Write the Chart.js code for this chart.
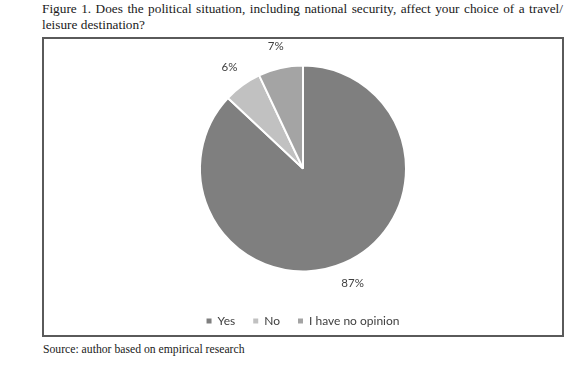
<!DOCTYPE html>
<html>
<head>
<meta charset="utf-8">
<title>Figure 1</title>
<script src="https://cdn.jsdelivr.net/npm/chart.js@4.4.1/dist/chart.umd.min.js"></script>
<style>
    body {
        margin: 0;
        background: #ffffff;
        width: 582px;
        height: 365px;
        position: relative;
        overflow: hidden;
    }
    .title {
        position: absolute;
        left: 42px;
        top: 1px;
        width: 521px;
        font-family: "Liberation Serif", "DejaVu Serif", serif;
        font-size: 13.3px;
        line-height: 16px;
        color: #1a1a1a;
    }
    .title .first {
        text-align: justify;
        text-align-last: justify;
    }
    .frame {
        position: absolute;
        left: 42px;
        top: 37px;
        width: 518px;
        height: 296px;
        border: 2px solid #5a5a5a;
    }
    #chartWrap {
        position: absolute;
        left: 45px;
        top: 20px;
        width: 516px;
        height: 317px;
    }
    .source {
        position: absolute;
        left: 43px;
        top: 343px;
        font-family: "Liberation Serif", "DejaVu Serif", serif;
        font-size: 11.7px;
        color: #1a1a1a;
    }
</style>
</head>
<body>
<div class="title">
    <div class="first">Figure 1. Does the political situation, including national security, affect your choice of a travel/</div>
    <div>leisure destination?</div>
</div>
<div class="frame"></div>
<div id="chartWrap"><canvas id="pieChart"></canvas></div>
<div class="source">Source: author based on empirical research</div>

<script>
// Chart data
const categories = ['Yes', 'No', 'I have no opinion'];
const values = [87, 6, 7];
const sliceColors = ['#7f7f7f', '#c1c1c1', '#a4a4a4'];

// Percent labels outside each slice
const outsideLabels = {
    id: 'outsideLabels',
    afterDatasetsDraw(chart) {
        const ctx = chart.ctx;
        const meta = chart.getDatasetMeta(0);
        ctx.save();
        ctx.font = '11.5px Lato, "Open Sans", sans-serif';
        ctx.fillStyle = '#404040';
        ctx.textAlign = 'center';
        ctx.textBaseline = 'middle';
        meta.data.forEach((arc, i) => {
            const p = arc.getProps(['x', 'y', 'startAngle', 'endAngle', 'outerRadius'], true);
            const mid = (p.startAngle + p.endAngle) / 2;
            const r = p.outerRadius + 22;
            ctx.fillText(values[i] + '%', p.x + Math.cos(mid) * r, p.y + Math.sin(mid) * r);
        });
        ctx.restore();
    }
};

document.addEventListener('DOMContentLoaded', function() {
    const ctx = document.getElementById('pieChart');
    const defaultLabels = Chart.overrides.pie.plugins.legend.labels.generateLabels;
    new Chart(ctx, {
        type: 'pie',
        data: {
            labels: categories,
            datasets: [{
                data: values,
                backgroundColor: sliceColors,
                borderColor: '#ffffff',
                borderWidth: 2,
                radius: 103
            }]
        },
        options: {
            responsive: true,
            maintainAspectRatio: false,
            animation: false,
            layout: { padding: { top: 20 } },
            plugins: {
                legend: {
                    position: 'bottom',
                    labels: {
                        boxWidth: 5,
                        boxHeight: 5,
                        padding: 18,
                        color: '#404040',
                        font: { family: 'Lato, "Open Sans", sans-serif', size: 12 },
                        generateLabels: function(chart) {
                            return defaultLabels(chart).map(item => {
                                item.lineWidth = 0;
                                return item;
                            });
                        }
                    }
                },
                tooltip: { enabled: false }
            }
        },
        plugins: [outsideLabels]
    });
});
</script>
</body>
</html>
